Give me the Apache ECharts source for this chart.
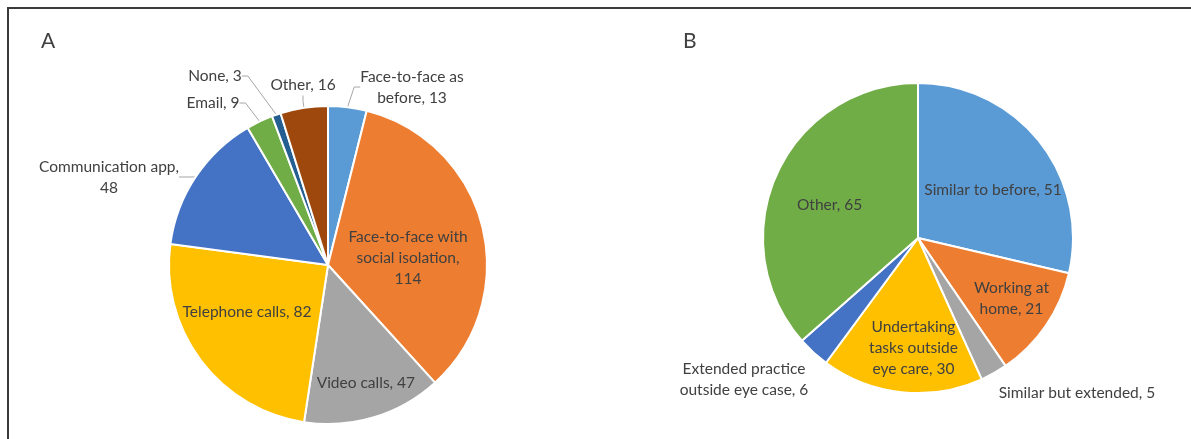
<!DOCTYPE html>
<html>
<head>
<meta charset="utf-8">
<script src="https://cdn.jsdelivr.net/npm/echarts@6/dist/echarts.min.js"></script>
<style>
  html, body { margin: 0; padding: 0; background: #fff; }
  #frame { position: absolute; left: 7px; top: 7px; right: 0; bottom: 0;
           border-left: 2px solid #3a3a3a; border-top: 2px solid #3a3a3a; }
  #main { position: absolute; left: 0; top: 0; width: 1191px; height: 439px; }
</style>
</head>
<body>
<div id="frame"></div>
<div id="main"></div>
<script>
// panel A: ways of contacting patients
const namesA = ['Face-to-face as before', 'Face-to-face with social isolation', 'Video calls',
  'Telephone calls', 'Communication app', 'Email', 'None', 'Other'];
const labelsA = ['Face-to-face as\nbefore, 13', 'Face-to-face with\nsocial isolation,\n114', 'Video calls, 47',
  'Telephone calls, 82', 'Communication app,\n48', 'Email, 9', 'None, 3', 'Other, 16'];
const valuesA = [13, 114, 47, 82, 48, 9, 3, 16];
const colorsA = ['#5B9BD5', '#ED7D31', '#A5A5A5', '#FFC000', '#4472C4', '#70AD47', '#255E91', '#9E480E'];
const insideA = [false, true, true, true, false, false, false, false];

// panel B: working pattern
const namesB = ['Similar to before', 'Working at home', 'Similar but extended',
  'Undertaking tasks outside eye care', 'Extended practice outside eye case', 'Other'];
const labelsB = ['Similar to before, 51', 'Working at\nhome, 21', 'Similar but extended, 5',
  'Undertaking\ntasks outside\neye care, 30', 'Extended practice\noutside eye case, 6', 'Other, 65'];
const valuesB = [51, 21, 5, 30, 6, 65];
const colorsB = ['#5B9BD5', '#ED7D31', '#A5A5A5', '#FFC000', '#4472C4', '#70AD47'];
const insideB = [true, true, false, true, false, true];

// where Excel put the labels: outside ones absolute, inside ones nudged
const spotA = { 0: [412, 87], 4: [109, 177], 5: [213, 103], 6: [215, 76], 7: [303, 85] };
const nudgeA = { 1: [0, 13], 2: [14, 39], 3: [-15, -2] };
const spotB = { 2: [1077, 393], 4: [744, 379] };
const nudgeB = { 0: [12, 2], 1: [27, 15], 3: [4, 30], 5: [-15, 0] };

const font = 'Lato, "Open Sans", sans-serif';
const textColor = '#404040';

function buildData(names, labels, values, colors, inside, leaders) {
  return names.map(function (n, i) {
    return {
      name: n,
      value: values[i],
      itemStyle: { color: colors[i] },
      label: {
        position: inside[i] ? 'inside' : 'outside',
        formatter: labels[i]
      },
      labelLine: { show: leaders && !inside[i] }
    };
  });
}

function placer(spot, nudge) {
  return function (params) {
    const i = params.dataIndex;
    if (spot[i]) {
      return { x: spot[i][0], y: spot[i][1], align: 'center', verticalAlign: 'middle' };
    }
    if (nudge[i]) {
      return { dx: nudge[i][0], dy: nudge[i][1] };
    }
    return {};
  };
}

var myChart = echarts.init(document.getElementById('main'));

let labelStyle = { fontFamily: font, fontSize: 15.5, color: textColor, lineHeight: 21, align: 'center' };
let lineStyle = { length: 10, length2: 6, lineStyle: { color: '#A6A6A6', width: 1 } };

let option = {
  animation: false,
  title: [
    { text: 'A', left: 36, top: 26, textStyle: { fontFamily: font, fontSize: 21, fontWeight: 'normal', color: textColor } },
    { text: 'B', left: 678, top: 26, textStyle: { fontFamily: font, fontSize: 21, fontWeight: 'normal', color: textColor } }
  ],
  series: [{
    type: 'pie',
    center: [328, 265],
    radius: 159,
    startAngle: 90,
    clockwise: true,
    data: buildData(namesA, labelsA, valuesA, colorsA, insideA, true),
    itemStyle: { borderColor: '#fff', borderWidth: 2 },
    label: labelStyle,
    labelLine: lineStyle,
    labelLayout: placer(spotA, nudgeA)
  }, {
    type: 'pie',
    center: [918, 238],
    radius: 155,
    startAngle: 90,
    clockwise: true,
    data: buildData(namesB, labelsB, valuesB, colorsB, insideB, false),
    itemStyle: { borderColor: '#fff', borderWidth: 2 },
    label: labelStyle,
    labelLine: lineStyle,
    labelLayout: placer(spotB, nudgeB)
  }]
};

myChart.setOption(option);
</script>
</body>
</html>
